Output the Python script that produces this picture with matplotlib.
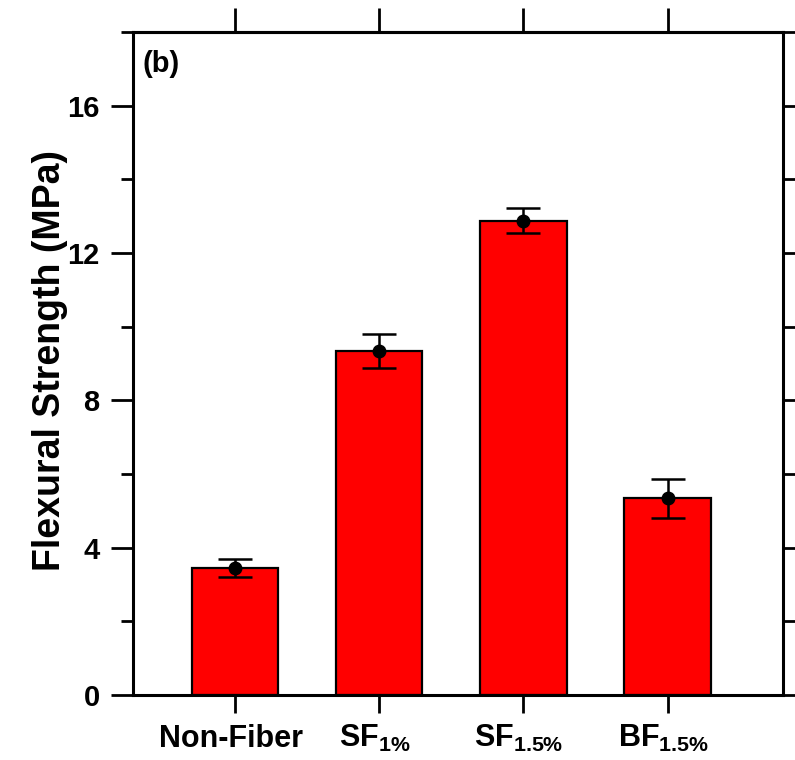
import matplotlib
matplotlib.use("Agg")
import matplotlib.pyplot as plt
from matplotlib.ticker import MultipleLocator

plt.rcParams["font.family"] = ["Liberation Sans", "DejaVu Sans"]
plt.rcParams["font.weight"] = "bold"
plt.rcParams["mathtext.fontset"] = "custom"
plt.rcParams["mathtext.rm"] = "Liberation Sans:bold"
plt.rcParams["mathtext.bf"] = "Liberation Sans:bold"
plt.rcParams["mathtext.it"] = "Liberation Sans:bold"

# flexural strength per mix, mean and +/- spread
mixes = [r"Non-Fiber", r"SF$_{1\%}$", r"SF$_{1.5\%}$", r"BF$_{1.5\%}$"]
strength = [3.45, 9.34, 12.87, 5.34]
spread = [0.25, 0.46, 0.34, 0.53]

x = list(range(len(mixes)))

fig = plt.figure(figsize=(7.95, 7.6), dpi=100)
ax = fig.add_axes([0.1673, 0.0855, 0.8177, 0.8725])

ax.bar(x, strength, width=0.6, color="#ff0000", edgecolor="black", linewidth=1.6, zorder=2)
ax.errorbar(x, strength, yerr=spread, fmt="o", color="black", markersize=9,
            elinewidth=1.8, capsize=12.5, capthick=1.8, zorder=3)

ax.set_xlim(-0.707, 3.8)
ax.set_ylim(0, 18)

for s in ax.spines.values():
    s.set_linewidth(2.2)

ax.yaxis.set_major_locator(MultipleLocator(4))
ax.yaxis.set_minor_locator(MultipleLocator(2))
ax.tick_params(axis="y", which="major", direction="out", length=16, width=2,
               labelsize=21, pad=8, right=True)
ax.tick_params(axis="y", which="minor", direction="out", length=9, width=2, right=True)
ax.yaxis.set_tick_params(which="both", right=True)
for t in ax.yaxis.get_major_ticks():
    t.tick2line.set_markersize(16)

ax.set_xticks(x)
ax.set_xticklabels([])
ax.tick_params(axis="x", which="major", direction="out", length=13, width=2)

top = ax.secondary_xaxis("top")
top.set_xticks(x)
top.set_xticklabels([])
top.tick_params(direction="out", length=17, width=2)
top.spines["top"].set_linewidth(2.2)

# category names under each bar, sharing one baseline
for xi, name in zip(x, mixes):
    ax.text(xi - 0.03, -0.0784, name, transform=ax.get_xaxis_transform(),
            ha="center", va="baseline", fontsize=22, fontweight="bold")

ax.set_ylabel("Flexural Strength (MPa)", fontsize=27, fontweight="bold")
ax.yaxis.set_label_coords(-0.10, 0.504)

ax.text(0.014, 0.973, "(b)", transform=ax.transAxes, ha="left", va="top",
        fontsize=21, fontweight="bold")

fig.savefig("out.png", dpi=100)
